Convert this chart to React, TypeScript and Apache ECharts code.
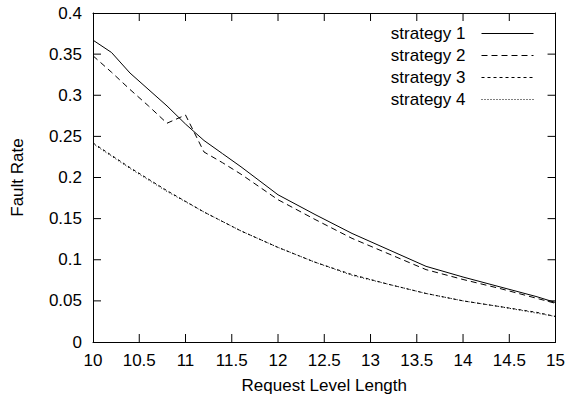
import React, { useEffect, useRef } from "react";
import * as echarts from "echarts";

const xs1 = [10, 10.2, 10.4, 10.8, 11, 11.2, 11.4, 11.6, 12, 12.4, 12.8, 13.2, 13.6, 14, 14.4, 14.8, 15];
const strategy1 = [0.367, 0.352, 0.327, 0.287, 0.265, 0.245, 0.229, 0.213, 0.179, 0.155, 0.132, 0.112, 0.092, 0.079, 0.067, 0.055, 0.048];

const xs2 = [10, 10.2, 10.4, 10.6, 10.8, 11, 11.2, 11.4, 11.6, 12, 12.4, 12.8, 13.2, 13.6, 14, 14.4, 14.8, 15];
const strategy2 = [0.348, 0.328, 0.307, 0.287, 0.266, 0.276, 0.231, 0.218, 0.204, 0.173, 0.149, 0.126, 0.107, 0.088, 0.076, 0.065, 0.053, 0.047];

const xs34 = [10, 10.4, 10.8, 11.2, 11.6, 12, 12.4, 12.8, 13.2, 13.6, 14, 14.4, 14.8, 15];
const strategy3 = [0.242, 0.212, 0.184, 0.158, 0.135, 0.115, 0.097, 0.082, 0.07, 0.059, 0.05, 0.043, 0.036, 0.031];
const strategy4 = [0.241, 0.211, 0.183, 0.158, 0.135, 0.115, 0.097, 0.081, 0.07, 0.059, 0.05, 0.043, 0.035, 0.031];

const seriesNames = ["strategy 1", "strategy 2", "strategy 3", "strategy 4"];
const xTickValues = [10.5, 11, 11.5, 12, 12.5, 13, 13.5, 14, 14.5];
const yTickValues = [0.05, 0.1, 0.15, 0.2, 0.25, 0.3, 0.35];
const yTickLabels = ["0", "0.05", "0.1", "0.15", "0.2", "0.25", "0.3", "0.35", "0.4"];

const X_MIN = 10, X_MAX = 15, X_STEP = 0.5;
const Y_MIN = 0, Y_MAX = 0.4, Y_STEP = 0.05;
const FONT = "'Liberation Sans', Arial, Helvetica, sans-serif";

export default function App() {
  const ref = useRef<HTMLDivElement>(null);
  useEffect(() => {
    if (!ref.current) return;
    const chart = echarts.init(ref.current, null, { renderer: "svg" });
    const pair = (xs: number[], ys: number[]) => xs.map((x, i) => [x, ys[i]]);
    const line = { show: true, onZero: false, lineStyle: { color: "#000", width: 1 } };
    const TL = 8;
    const mk = (name: string, data: number[][], dash: any) => ({
      name,
      type: "line",
      xAxisIndex: 0,
      yAxisIndex: 0,
      data,
      symbol: "none",
      showSymbol: false,
      lineStyle: { color: "#000", width: 1, type: dash },
      itemStyle: { color: "#000" },
    });
    const xTickData = [
      ...xTickValues.map((v) => ({ value: [v, Y_MIN], symbolOffset: [0, -TL / 2] })),
      ...xTickValues.map((v) => ({ value: [v, Y_MAX], symbolOffset: [0, TL / 2] })),
    ];
    const yTickData = [
      ...yTickValues.map((v) => ({ value: [X_MIN, v], symbolOffset: [TL / 2, 0] })),
      ...yTickValues.map((v) => ({ value: [X_MAX, v], symbolOffset: [-TL / 2, 0] })),
    ];
    const tickSeries = (name: string, data: any[], size: number[]) => ({
      name,
      type: "scatter",
      xAxisIndex: 0,
      yAxisIndex: 0,
      symbol: "rect",
      symbolSize: size,
      clip: false,
      silent: true,
      z: 5,
      itemStyle: { color: "#000", opacity: 1 },
      data,
    });
    chart.setOption({
      animation: false,
      backgroundColor: "#fff",
      textStyle: { fontFamily: FONT },
      grid: { left: 93, right: 11, top: 13, bottom: 58 },
      legend: {
        show: true,
        orient: "vertical",
        right: 29,
        top: 20,
        align: "right",
        itemWidth: 52,
        itemHeight: 14,
        itemGap: 5,
        itemStyle: { color: "transparent", borderWidth: 0, opacity: 0 },
        lineStyle: { width: 1 },
        textStyle: { fontFamily: FONT, fontSize: 17, color: "#000", lineHeight: 14, padding: [0, 11, 0, 0] },
        data: seriesNames,
      },
      xAxis: [
        {
          type: "value",
          min: X_MIN,
          max: X_MAX,
          interval: X_STEP,
          position: "bottom",
          axisLine: line,
          axisTick: { show: false },
          splitLine: { show: false },
          name: "Request Level Length",
          nameLocation: "middle",
          nameGap: 35,
          nameTextStyle: { fontFamily: FONT, fontSize: 17, color: "#000" },
          axisLabel: { color: "#000", fontSize: 17, fontFamily: FONT, margin: 10 },
        },
        {
          type: "value",
          min: X_MIN,
          max: X_MAX,
          interval: X_STEP,
          position: "top",
          axisLine: line,
          axisTick: { show: false },
          splitLine: { show: false },
          axisLabel: { show: false },
        },
      ],
      yAxis: [
        {
          type: "value",
          min: Y_MIN,
          max: Y_MAX,
          interval: Y_STEP,
          position: "left",
          axisLine: line,
          axisTick: { show: false },
          splitLine: { show: false },
          name: "Fault Rate",
          nameLocation: "middle",
          nameGap: 67,
          nameTextStyle: { fontFamily: FONT, fontSize: 17, color: "#000" },
          axisLabel: {
            color: "#000",
            fontSize: 17,
            fontFamily: FONT,
            margin: 11,
            formatter: (v: number) => yTickLabels[Math.round(v / Y_STEP)] ?? String(v),
          },
        },
        {
          type: "value",
          min: Y_MIN,
          max: Y_MAX,
          interval: Y_STEP,
          position: "right",
          axisLine: line,
          axisTick: { show: false },
          splitLine: { show: false },
          axisLabel: { show: false },
        },
      ],
      series: [
        mk(seriesNames[0], pair(xs1, strategy1), "solid"),
        mk(seriesNames[1], pair(xs2, strategy2), [6, 4]),
        mk(seriesNames[2], pair(xs34, strategy3), [3, 3]),
        mk(seriesNames[3], pair(xs34, strategy4), [1, 2]),
        tickSeries("xticks", xTickData, [1, TL]),
        tickSeries("yticks", yTickData, [TL, 1]),
      ],
    });
    return () => chart.dispose();
  }, []);
  return <div ref={ref} style={{ width: 568, height: 400, position: "absolute", left: 0, top: 0 }} />;
}
